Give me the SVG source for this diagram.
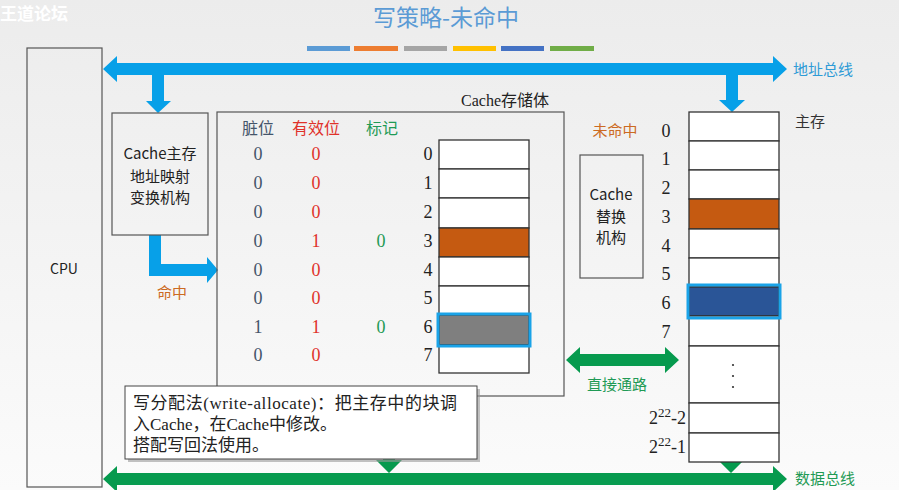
<svg xmlns="http://www.w3.org/2000/svg" width="899" height="490" viewBox="0 0 899 490">
<defs>
<linearGradient id="bg" x1="0" y1="0" x2="0" y2="1">
<stop offset="0" stop-color="#ececec"/>
<stop offset="1" stop-color="#fbfbfb"/>
</linearGradient>
<style>
.box{fill:none;stroke:#555;stroke-width:1.2}
.cell{fill:#fff;stroke:#333;stroke-width:1.3}
.sans{font-family:"Noto Sans CJK SC","Noto Sans",sans-serif}
.serif{font-family:"Liberation Serif","Noto Sans CJK SC",serif}
.num{font-family:"Liberation Serif",serif;font-size:18px;text-anchor:middle;dominant-baseline:central}
.dirty{fill:#44546a}
.valid{fill:#e0322a}
.tag{fill:#1f9a55}
.blk{fill:#222}
.blue{fill:#07a0e8}
.green{fill:#069a4e}
.hl{fill:none;stroke:#1aa3e8;stroke-width:3}
</style>
</defs>
<rect width="899" height="490" fill="url(#bg)"/>

<text x="0" y="20" class="sans" font-size="17" fill="#ffffff" font-weight="bold">王道论坛</text>

<g id="title">
<text x="446" y="26" class="sans" font-size="23" fill="#5b9bd5" text-anchor="middle">写策略-未命中</text>
<rect x="307" y="46" width="43" height="5" fill="#5b9bd5"/>
<rect x="354" y="46" width="44" height="5" fill="#ed7d31"/>
<rect x="404" y="46" width="43" height="5" fill="#a5a5a5"/>
<rect x="453" y="46" width="43" height="5" fill="#ffc000"/>
<rect x="501" y="46" width="43" height="5" fill="#4472c4"/>
<rect x="550" y="46" width="44" height="5" fill="#70ad47"/>
</g>

<g id="connectors">
<polygon class="blue" points="103,69 117,56 117,63 773,63 773,56 787,69 773,82 773,75 117,75 117,82"/>
<polygon class="blue" points="152,75 164,75 164,101 171,101 158,113 146,101 152,101"/>
<polygon class="blue" points="726,75 738,75 738,100 745,100 732,112 719,100 726,100"/>
<polygon class="blue" points="149,235 161,235 161,264 207,264 207,257 218,270 207,283 207,276 149,276"/>
<polygon class="green" points="103,479 117,466 117,473 773,473 773,466 787,479 773,492 773,485 117,485 117,492"/>
<polygon class="green" points="383,396 395,396 395,460 402,460 389,473 376,460 383,460"/>
<polygon class="green" points="731,443 742,454 736,454 736,462 742,462 731,473 720,462 726,462 726,454 720,454"/>
<polygon class="green" points="566,360 580,347 580,354 665,354 665,347 679,360 665,373 665,366 580,366 580,373"/>
</g>

<g id="cpu">
<rect x="27" y="48" width="75" height="439" class="box"/>
<text x="64" y="274" class="sans" font-size="14" fill="#222" text-anchor="middle">CPU</text>
</g>

<g id="addrmap">
<rect x="112" y="113" width="96" height="122" class="box"/>
<text x="160" y="159" class="sans" font-size="15" fill="#222" text-anchor="middle">Cache主存</text>
<text x="160" y="182" class="sans" font-size="15" fill="#222" text-anchor="middle">地址映射</text>
<text x="160" y="203" class="sans" font-size="15" fill="#222" text-anchor="middle">变换机构</text>
</g>
<text x="172" y="298" class="sans" font-size="15" fill="#cc6a22" text-anchor="middle">命中</text>

<g id="cache">
<rect x="217" y="112" width="347" height="284" class="box"/>
<text x="505" y="106" class="serif" font-size="16" fill="#222" text-anchor="middle">Cache存储体</text>
<text x="258" y="134" class="sans" font-size="16" fill="#44546a" text-anchor="middle">脏位</text>
<text x="316" y="134" class="sans" font-size="16" fill="#e0322a" text-anchor="middle">有效位</text>
<text x="382" y="134" class="sans" font-size="16" fill="#1f9a55" text-anchor="middle">标记</text>

<text x="258" y="154" class="num dirty">0</text><text x="316" y="154" class="num valid">0</text><text x="428" y="154" class="num blk">0</text>
<text x="258" y="183" class="num dirty">0</text><text x="316" y="183" class="num valid">0</text><text x="428" y="183" class="num blk">1</text>
<text x="258" y="212" class="num dirty">0</text><text x="316" y="212" class="num valid">0</text><text x="428" y="212" class="num blk">2</text>
<text x="258" y="241" class="num dirty">0</text><text x="316" y="241" class="num valid">1</text><text x="381" y="241" class="num tag">0</text><text x="428" y="241" class="num blk">3</text>
<text x="258" y="270" class="num dirty">0</text><text x="316" y="270" class="num valid">0</text><text x="428" y="270" class="num blk">4</text>
<text x="258" y="298" class="num dirty">0</text><text x="316" y="298" class="num valid">0</text><text x="428" y="298" class="num blk">5</text>
<text x="258" y="327" class="num dirty">1</text><text x="316" y="327" class="num valid">1</text><text x="381" y="327" class="num tag">0</text><text x="428" y="327" class="num blk">6</text>
<text x="258" y="355" class="num dirty">0</text><text x="316" y="355" class="num valid">0</text><text x="428" y="355" class="num blk">7</text>

<rect x="439" y="140" width="90" height="29" class="cell"/>
<rect x="439" y="169" width="90" height="29" class="cell"/>
<rect x="439" y="198" width="90" height="30" class="cell"/>
<rect x="439" y="228" width="90" height="29" class="cell" style="fill:#c55a11"/>
<rect x="439" y="257" width="90" height="29" class="cell"/>
<rect x="439" y="286" width="90" height="29" class="cell"/>
<rect x="439" y="315" width="90" height="30" class="cell" style="fill:#7f7f7f"/>
<rect x="439" y="345" width="90" height="28" class="cell"/>
<rect x="438" y="314" width="92" height="32" class="hl"/>
</g>

<text x="615" y="136" class="sans" font-size="15" fill="#cc6a22" text-anchor="middle">未命中</text>

<g id="replace">
<rect x="580" y="155" width="63" height="123" class="box"/>
<text x="611" y="200" class="sans" font-size="15" fill="#222" text-anchor="middle">Cache</text>
<text x="611" y="222" class="sans" font-size="15" fill="#222" text-anchor="middle">替换</text>
<text x="611" y="243" class="sans" font-size="15" fill="#222" text-anchor="middle">机构</text>
</g>

<g id="memory">
<text x="810" y="127" class="sans" font-size="15" fill="#333" text-anchor="middle">主存</text>
<text x="666" y="131" class="num blk">0</text>
<text x="666" y="159" class="num blk">1</text>
<text x="666" y="188" class="num blk">2</text>
<text x="666" y="217" class="num blk">3</text>
<text x="666" y="246" class="num blk">4</text>
<text x="666" y="274" class="num blk">5</text>
<text x="666" y="303" class="num blk">6</text>
<text x="666" y="332" class="num blk">7</text>
<rect x="689" y="112" width="90" height="29" class="cell"/>
<rect x="689" y="141" width="90" height="29" class="cell"/>
<rect x="689" y="170" width="90" height="29" class="cell"/>
<rect x="689" y="199" width="90" height="30" class="cell" style="fill:#c55a11"/>
<rect x="689" y="229" width="90" height="29" class="cell"/>
<rect x="689" y="258" width="90" height="29" class="cell"/>
<rect x="689" y="287" width="90" height="29" class="cell" style="fill:#2a5597"/>
<rect x="689" y="316" width="90" height="30" class="cell"/>
<rect x="689" y="346" width="90" height="57" class="cell"/>
<rect x="689" y="403" width="90" height="30" class="cell"/>
<rect x="689" y="433" width="90" height="29" class="cell"/>
<rect x="688" y="285" width="92" height="33" class="hl"/>
<circle cx="733" cy="365" r="1.1" fill="#333"/>
<circle cx="733" cy="376" r="1.1" fill="#333"/>
<circle cx="733" cy="387" r="1.1" fill="#333"/>
<text x="686" y="424" class="serif" font-size="18" fill="#222" text-anchor="end">2<tspan font-size="13" dy="-7">22</tspan><tspan dy="7">-2</tspan></text>
<text x="686" y="453" class="serif" font-size="18" fill="#222" text-anchor="end">2<tspan font-size="13" dy="-7">22</tspan><tspan dy="7">-1</tspan></text>
</g>

<text x="793" y="75" class="sans" font-size="15" fill="#2e9bd6">地址总线</text>
<text x="795" y="484" class="sans" font-size="15" fill="#1f9a55">数据总线</text>
<text x="617" y="390" class="sans" font-size="15" fill="#1f9a55" text-anchor="middle">直接通路</text>

<g id="note">
<rect x="128" y="389" width="352" height="73" fill="#9a9a9a" opacity="0.6"/>
<rect x="125" y="386" width="352" height="73" fill="#ffffff" stroke="#444" stroke-width="1"/>
<text x="133" y="409" class="serif" font-size="17" fill="#222" textLength="324" lengthAdjust="spacing">写分配法(write-allocate)：把主存中的块调</text>
<text x="133" y="430" class="serif" font-size="17" fill="#222">入Cache，在Cache中修改。</text>
<text x="133" y="451" class="serif" font-size="17" fill="#222">搭配写回法使用。</text>
</g>
</svg>
